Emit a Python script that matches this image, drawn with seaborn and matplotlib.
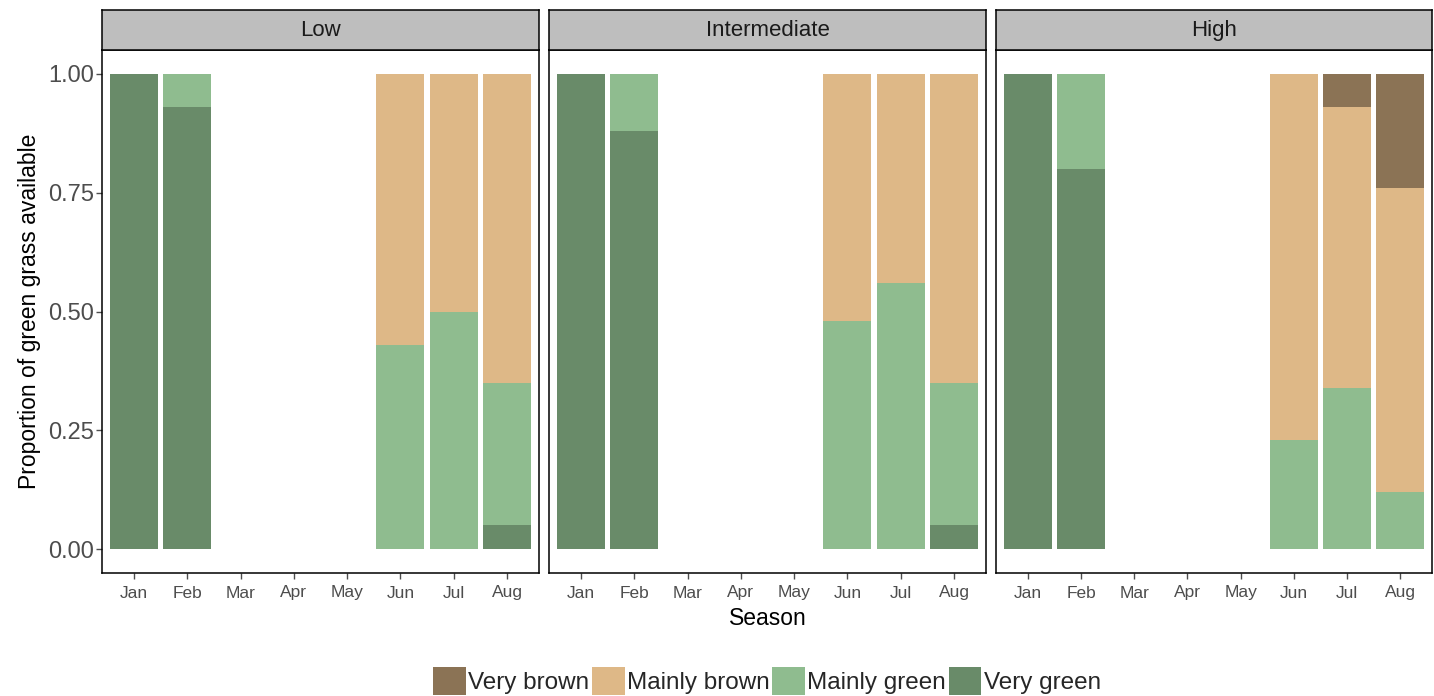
import numpy as np
import pandas as pd
import matplotlib
matplotlib.use("Agg")
import matplotlib.pyplot as plt
from matplotlib.patches import Patch
import seaborn as sns

months = ["Jan", "Feb", "Mar", "Apr", "May", "Jun", "Jul", "Aug"]
sites = ["Low", "Intermediate", "High"]
categories = ["Very green", "Mainly green", "Mainly brown", "Very brown"]  # bottom -> top
colors = {"Very brown": "#8B7355", "Mainly brown": "#DEB887",
          "Mainly green": "#8FBC8F", "Very green": "#698B69"}

# proportions per month (Jan..Aug); Mar-May not sampled
low_very_green    = [1.00, 0.93, 0, 0, 0, 0.00, 0.00, 0.05]
low_mainly_green  = [0.00, 0.07, 0, 0, 0, 0.43, 0.50, 0.30]
low_mainly_brown  = [0.00, 0.00, 0, 0, 0, 0.57, 0.50, 0.65]
low_very_brown    = [0.00, 0.00, 0, 0, 0, 0.00, 0.00, 0.00]

int_very_green    = [1.00, 0.88, 0, 0, 0, 0.00, 0.00, 0.05]
int_mainly_green  = [0.00, 0.12, 0, 0, 0, 0.48, 0.56, 0.30]
int_mainly_brown  = [0.00, 0.00, 0, 0, 0, 0.52, 0.44, 0.65]
int_very_brown    = [0.00, 0.00, 0, 0, 0, 0.00, 0.00, 0.00]

high_very_green   = [1.00, 0.80, 0, 0, 0, 0.00, 0.00, 0.00]
high_mainly_green = [0.00, 0.20, 0, 0, 0, 0.23, 0.34, 0.12]
high_mainly_brown = [0.00, 0.00, 0, 0, 0, 0.77, 0.59, 0.64]
high_very_brown   = [0.00, 0.00, 0, 0, 0, 0.00, 0.07, 0.24]

values = {
    "Low": [low_very_green, low_mainly_green, low_mainly_brown, low_very_brown],
    "Intermediate": [int_very_green, int_mainly_green, int_mainly_brown, int_very_brown],
    "High": [high_very_green, high_mainly_green, high_mainly_brown, high_very_brown],
}

sns.set_theme(style="white")
plt.rcParams["font.family"] = ["Liberation Sans", "DejaVu Sans"]

W, H = 1434, 696
fig = plt.figure(figsize=(W / 100, H / 100), dpi=100)

panel_x = [(102, 539), (549, 986), (996, 1432)]
top, bottom = 50, 573
strip_top = 10
grey_txt = "#4D4D4D"

for i, (site, (x0, x1)) in enumerate(zip(sites, panel_x)):
    ax = fig.add_axes([x0 / W, 1 - bottom / H, (x1 - x0) / W, (bottom - top) / H])
    base = np.zeros(len(months))
    for cat, vals in zip(categories, values[site]):
        df = pd.DataFrame({"month": months, "value": vals})
        sns.barplot(data=df, x="month", y="value", order=months, color=colors[cat],
                    saturation=1, width=0.9, bottom=base, ax=ax, linewidth=0,
                    errorbar=None)
        base = base + np.array(vals)
    ax.set_xlim(0.4 - 1, 8.6 - 1)
    ax.set_ylim(-0.05, 1.05)
    ax.set_yticks([0, 0.25, 0.5, 0.75, 1.0])
    if i == 0:
        ax.set_yticklabels(["0.00", "0.25", "0.50", "0.75", "1.00"])
        ax.set_ylabel("Proportion of green grass available", fontsize=16.5,
                      color="black", labelpad=5)
    else:
        ax.set_yticklabels([])
        ax.set_ylabel("")
    if i == 1:
        ax.set_xlabel("Season", fontsize=16.5, color="black", labelpad=5)
    else:
        ax.set_xlabel("")
    ax.tick_params(axis="y", labelsize=17, colors=grey_txt, labelcolor=grey_txt,
                   left=(i == 0), length=4 if i == 0 else 0, width=1, pad=2)
    ax.tick_params(axis="x", labelsize=12.5, colors=grey_txt, labelcolor=grey_txt,
                   bottom=True, length=4, width=1, pad=5)
    for s in ax.spines.values():
        s.set_color("black")
        s.set_linewidth(1.1)
    ax.grid(False)

    # facet strip
    sax = fig.add_axes([x0 / W, 1 - top / H, (x1 - x0) / W, (top - strip_top) / H])
    sax.set_facecolor("#BEBEBE")
    sax.set_xticks([])
    sax.set_yticks([])
    for s in sax.spines.values():
        s.set_color("black")
        s.set_linewidth(1.1)
    sax.text(0.5, 0.48, site, ha="center", va="center", fontsize=16, color="#1A1A1A",
             transform=sax.transAxes)

handles = [Patch(facecolor=colors[c], edgecolor="none", label=c)
           for c in ["Very brown", "Mainly brown", "Mainly green", "Very green"]]
fig.legend(handles=handles, loc="center", bbox_to_anchor=(767 / W, 1 - 681 / H), ncol=4,
           frameon=False, fontsize=17.5, handlelength=1.35, handleheight=1.35,
           handletextpad=0.1, columnspacing=0.1, borderpad=0)

fig.savefig("out.png", dpi=100)
